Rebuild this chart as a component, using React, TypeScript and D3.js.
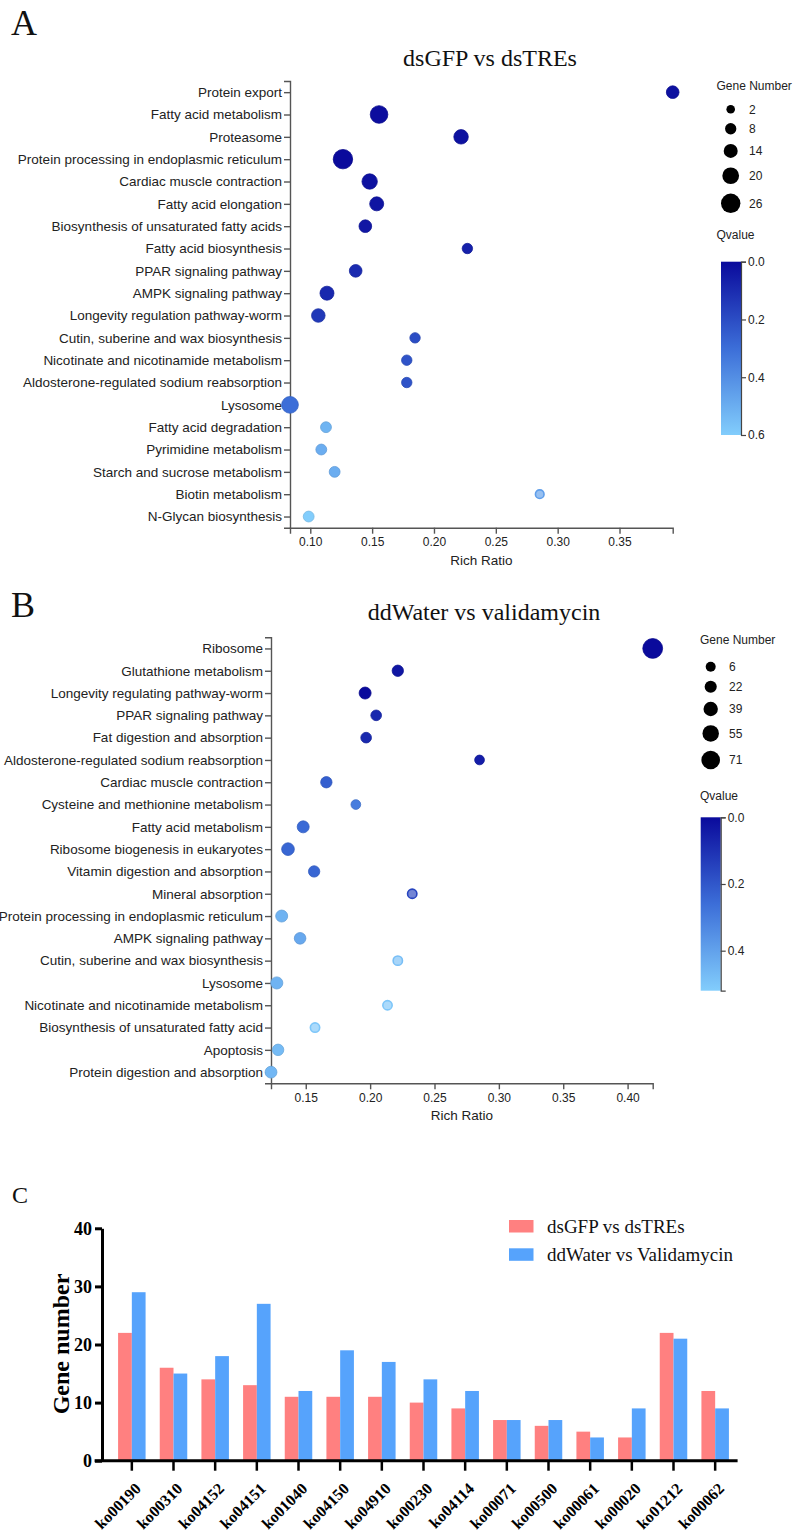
import React, { useRef, useEffect } from 'react';
import * as d3 from 'd3';

// ---- Panel A: dsGFP vs dsTREs ----
const pathwaysA = [
  'Protein export',
  'Fatty acid metabolism',
  'Proteasome',
  'Protein processing in endoplasmic reticulum',
  'Cardiac muscle contraction',
  'Fatty acid elongation',
  'Biosynthesis of unsaturated fatty acids',
  'Fatty acid biosynthesis',
  'PPAR signaling pathway',
  'AMPK signaling pathway',
  'Longevity regulation pathway-worm',
  'Cutin, suberine and wax biosynthesis',
  'Nicotinate and nicotinamide metabolism',
  'Aldosterone-regulated sodium reabsorption',
  'Lysosome',
  'Fatty acid degradation',
  'Pyrimidine metabolism',
  'Starch and sucrose metabolism',
  'Biotin metabolism',
  'N-Glycan biosynthesis',
];
const richA = [0.393, 0.1556, 0.2219, 0.1264, 0.148, 0.1537, 0.1445, 0.227, 0.1367, 0.1135,
  0.1065, 0.1847, 0.178, 0.178, 0.0836, 0.1127, 0.1089, 0.1197, 0.2855, 0.0987];
const genesA = [11, 22, 15, 26, 17, 14, 11, 6, 11, 14, 13, 6, 6, 6, 20, 7, 7, 7, 2, 7];
const qvalA = [0.02, 0.01, 0.02, 0.0, 0.02, 0.03, 0.04, 0.07, 0.1, 0.09,
  0.14, 0.2, 0.22, 0.22, 0.3, 0.52, 0.5, 0.5, 0.45, 0.6];
const xTicksA = [0.10, 0.15, 0.20, 0.25, 0.30, 0.35];
const sizeTicksA = [2, 8, 14, 20, 26];
const qTicksA = [0, 0.2, 0.4, 0.6];

// ---- Panel B: ddWater vs validamycin ----
const pathwaysB = [
  'Ribosome',
  'Glutathione metabolism',
  'Longevity regulating pathway-worm',
  'PPAR signaling pathway',
  'Fat digestion and absorption',
  'Aldosterone-regulated sodium reabsorption',
  'Cardiac muscle contraction',
  'Cysteine and methionine metabolism',
  'Fatty acid metabolism',
  'Ribosome biogenesis in eukaryotes',
  'Vitamin digestion and absorption',
  'Mineral absorption',
  'Protein processing in endoplasmic reticulum',
  'AMPK signaling pathway',
  'Cutin, suberine and wax biosynthesis',
  'Lysosome',
  'Nicotinate and nicotinamide metabolism',
  'Biosynthesis of unsaturated fatty acid',
  'Apoptosis',
  'Protein digestion and absorption',
];
const richB = [0.4195, 0.2215, 0.1961, 0.2047, 0.1969, 0.285, 0.166, 0.1889, 0.148, 0.1362,
  0.1565, 0.2327, 0.1313, 0.1456, 0.2215, 0.1275, 0.2135, 0.1572, 0.1285, 0.123];
const genesB = [80, 16, 21, 11, 11, 4, 16, 4, 21, 26, 16, 1, 21, 18, 1, 22, 1, 1, 17, 20];
const qvalB = [0.0, 0.03, 0.0, 0.08, 0.08, 0.05, 0.22, 0.3, 0.25, 0.24,
  0.24, 0.15, 0.45, 0.42, 0.48, 0.45, 0.5, 0.5, 0.47, 0.46];
const xTicksB = [0.15, 0.20, 0.25, 0.30, 0.35, 0.40];
const sizeTicksB = [6, 22, 39, 55, 71];
const qTicksB = [0, 0.2, 0.4];

// ---- Panel C: gene numbers per KO ----
const koIds = ['ko00190', 'ko00310', 'ko04152', 'ko04151', 'ko01040', 'ko04150', 'ko04910', 'ko00230',
  'ko04114', 'ko00071', 'ko00500', 'ko00061', 'ko00020', 'ko01212', 'ko00062'];
const countsTREs = [22, 16, 14, 13, 11, 11, 11, 10, 9, 7, 6, 5, 4, 22, 12];
const countsValidamycin = [29, 15, 18, 27, 12, 19, 17, 14, 12, 7, 7, 4, 9, 21, 9];
const seriesC = ['dsGFP vs dsTREs', 'ddWater vs Validamycin'];
const yTicksC = [0, 10, 20, 30, 40];

const SANS = "'Liberation Sans', Arial, sans-serif";
const SERIF = "'Liberation Serif', 'Times New Roman', serif";

function drawBubble(svg: any, o: any) {
  const g = svg.append('g');
  const x = d3.scaleLinear().domain(d3.extent(o.rich) as [number, number]).range([o.left, o.right]);
  const y = d3.scalePoint().domain(o.names).range([o.top, o.bottom]).padding(0.5);
  const r = d3.scaleLinear()
    .domain([o.sizeTicks[0], o.sizeTicks[o.sizeTicks.length - 1]])
    .range(o.rRange);
  const color = d3.scaleLinear<string>()
    .domain([0, o.qMax / 2, o.qMax])
    .range(['#0a0a9c', '#3c6ed8', '#82cdfc']);

  // axes
  const yAxis = g.append('g')
    .attr('transform', `translate(${o.left},0)`)
    .call(d3.axisLeft(y).tickSize(6).tickSizeOuter(6).tickPadding(2));
  const xAxis = g.append('g')
    .attr('transform', `translate(0,${o.bottom})`)
    .call(d3.axisBottom(x).tickValues(o.xTicks).tickFormat(d3.format('.2f')).tickSize(6).tickSizeOuter(6).tickPadding(4));
  [yAxis, xAxis].forEach((a) => {
    a.selectAll('path, line').attr('stroke', '#555').attr('stroke-width', 1.4);
    a.selectAll('text').attr('fill', '#222').style('font-family', SANS).style('font-size', '13.5px');
  });
  xAxis.selectAll('text').style('font-size', '12px');

  g.append('text')
    .attr('x', (o.left + o.right) / 2).attr('y', o.bottom + 37)
    .attr('text-anchor', 'middle').attr('fill', '#222')
    .style('font-family', SANS).style('font-size', '13.5px')
    .text('Rich Ratio');

  // dots
  o.names.forEach((n: string, i: number) => {
    const c = color(o.q[i]);
    const ring = o.genes[i] <= 2;
    g.append('circle')
      .attr('cx', x(o.rich[i]))
      .attr('cy', y(n))
      .attr('r', r(o.genes[i]))
      .attr('fill', ring ? d3.interpolateRgb(c, '#ffffff')(0.35) : c)
      .attr('stroke', ring ? c : d3.color(c)!.darker(0.3).toString())
      .attr('stroke-width', ring ? 1.6 : 0.8);
  });

  // title + panel letter
  svg.append('text').attr('x', o.titleX).attr('y', o.titleY)
    .attr('text-anchor', 'middle').attr('fill', '#111')
    .style('font-family', SERIF).style('font-size', '24px').text(o.title);
  svg.append('text').attr('x', 11).attr('y', o.letterY).attr('fill', '#111')
    .style('font-family', SERIF).style('font-size', '36px').text(o.letter);

  // size legend
  g.append('text').attr('x', o.legX).attr('y', o.legTitleY).attr('fill', '#222')
    .style('font-family', SANS).style('font-size', '12px').text('Gene Number');
  let cy = o.legDotY;
  o.sizeTicks.forEach((s: number, i: number) => {
    if (i > 0) cy += r(o.sizeTicks[i - 1]) + r(s) + o.legGap;
    g.append('circle').attr('cx', o.legDotX).attr('cy', cy).attr('r', r(s)).attr('fill', '#000');
    g.append('text').attr('x', o.legLabX).attr('y', cy).attr('dy', '0.35em').attr('fill', '#222')
      .style('font-family', SANS).style('font-size', '12px').text(s);
  });

  // colour bar
  g.append('text').attr('x', o.legX).attr('y', o.qTitleY).attr('fill', '#222')
    .style('font-family', SANS).style('font-size', '12px').text('Qvalue');
  const gid = 'grad' + o.letter;
  const grad = svg.append('defs').append('linearGradient')
    .attr('id', gid).attr('x1', 0).attr('y1', 0).attr('x2', 0).attr('y2', 1);
  [0, 0.25, 0.5, 0.75, 1].forEach((t) => {
    grad.append('stop').attr('offset', t).attr('stop-color', color(t * o.qMax));
  });
  g.append('rect').attr('x', o.cbX).attr('y', o.cbTop).attr('width', 20)
    .attr('height', o.cbBottom - o.cbTop).attr('fill', `url(#${gid})`);
  const qs = d3.scaleLinear().domain([0, o.qMax]).range([o.cbTop, o.cbBottom]);
  const cb = g.append('g').attr('transform', `translate(${o.cbX + 20},0)`)
    .call(d3.axisRight(qs).tickValues(o.qTicks).tickFormat(d3.format('.1f')).tickSize(5).tickSizeOuter(5).tickPadding(2));
  cb.selectAll('path, line').attr('stroke', '#444').attr('stroke-width', 1.2);
  cb.selectAll('text').attr('fill', '#222').style('font-family', SANS).style('font-size', '12px');
}

function drawBars(svg: any) {
  const g = svg.append('g');
  const x0 = d3.scaleBand().domain(koIds).range([111, 736]).paddingInner(0.34).paddingOuter(0.17);
  const x1 = d3.scaleBand().domain(seriesC).range([0, x0.bandwidth()]);
  const y = d3.scaleLinear().domain([0, 40]).range([1460.7, 1228.3]);
  const color = d3.scaleOrdinal<string>().domain(seriesC).range(['#ff8080', '#56a3fc']);
  const vals = [countsTREs, countsValidamycin];

  koIds.forEach((k, i) => {
    seriesC.forEach((s, j) => {
      g.append('rect')
        .attr('x', x0(k)! + x1(s)!)
        .attr('y', y(vals[j][i]))
        .attr('width', x1.bandwidth())
        .attr('height', y(0) - y(vals[j][i]))
        .attr('fill', color(s));
    });
  });

  const ya = g.append('g').attr('transform', 'translate(102,0)')
    .call(d3.axisLeft(y).tickValues(yTicksC).tickSize(7).tickSizeOuter(0).tickPadding(3));
  ya.selectAll('path, line').attr('stroke', '#000').attr('stroke-width', 3);
  ya.selectAll('text').attr('fill', '#000').style('font-family', SERIF)
    .style('font-size', '18px').style('font-weight', 'bold');

  const xa = g.append('g').attr('transform', `translate(0,${y(0)})`)
    .call(d3.axisBottom(x0).tickSize(10).tickSizeOuter(0));
  xa.select('.domain').remove();
  xa.selectAll('line').attr('stroke', '#000').attr('stroke-width', 2.5);
  xa.selectAll('text')
    .attr('x', 0).attr('y', 0).attr('dy', 0)
    .attr('transform', 'translate(10,29) rotate(-45)')
    .attr('text-anchor', 'end').attr('fill', '#000')
    .style('font-family', SERIF).style('font-size', '16px').style('font-weight', 'bold');
  g.append('line').attr('x1', 94.6).attr('x2', 737.6).attr('y1', y(0)).attr('y2', y(0))
    .attr('stroke', '#000').attr('stroke-width', 3);

  g.append('text').attr('transform', 'translate(69,1344) rotate(-90)')
    .attr('text-anchor', 'middle').attr('fill', '#000')
    .style('font-family', SERIF).style('font-size', '24px').style('font-weight', 'bold')
    .text('Gene number');

  seriesC.forEach((s, j) => {
    const ly = 1220 + j * 28.3;
    g.append('rect').attr('x', 509).attr('y', ly).attr('width', 24.5).attr('height', 12.5).attr('fill', color(s));
    g.append('text').attr('x', 547).attr('y', ly + 13).attr('fill', '#111')
      .style('font-family', SERIF).style('font-size', '19px').text(s);
  });

  svg.append('text').attr('x', 12).attr('y', 1203).attr('fill', '#111')
    .style('font-family', SERIF).style('font-size', '24px').text('C');
}

const App = () => {
  const svgRef = useRef<SVGSVGElement>(null);

  useEffect(() => {
    const svg = d3.select(svgRef.current);
    svg.selectAll('*').remove();

    drawBubble(svg, {
      letter: 'A', letterY: 35, title: 'dsGFP vs dsTREs', titleX: 490, titleY: 66,
      names: pathwaysA, rich: richA, genes: genesA, q: qvalA, xTicks: xTicksA,
      left: 290, right: 672.7, top: 81, bottom: 527.7,
      sizeTicks: sizeTicksA, rRange: [4.3, 9.7], qMax: 0.6, qTicks: qTicksA,
      legX: 716.5, legTitleY: 90, legDotX: 730.7, legDotY: 109.3, legGap: 9.5, legLabX: 749,
      qTitleY: 239, cbX: 721, cbTop: 261.7, cbBottom: 435,
    });

    drawBubble(svg, {
      letter: 'B', letterY: 617, title: 'ddWater vs validamycin', titleX: 484, titleY: 620,
      names: pathwaysB, rich: richB, genes: genesB, q: qvalB, xTicks: xTicksB,
      left: 271, right: 652.7, top: 637.3, bottom: 1083.3,
      sizeTicks: sizeTicksB, rRange: [5, 9.3], qMax: 0.52, qTicks: qTicksB,
      legX: 700, legTitleY: 643.5, legDotX: 710.7, legDotY: 666.7, legGap: 9, legLabX: 729,
      qTitleY: 800, cbX: 700.7, cbTop: 817.3, cbBottom: 990.7,
    });

    drawBars(svg);
  }, []);

  return (
    <svg
      ref={svgRef}
      width={794}
      height={1534}
      style={{ position: 'absolute', left: 0, top: 0, background: '#fff' }}
    />
  );
};

export default App;
